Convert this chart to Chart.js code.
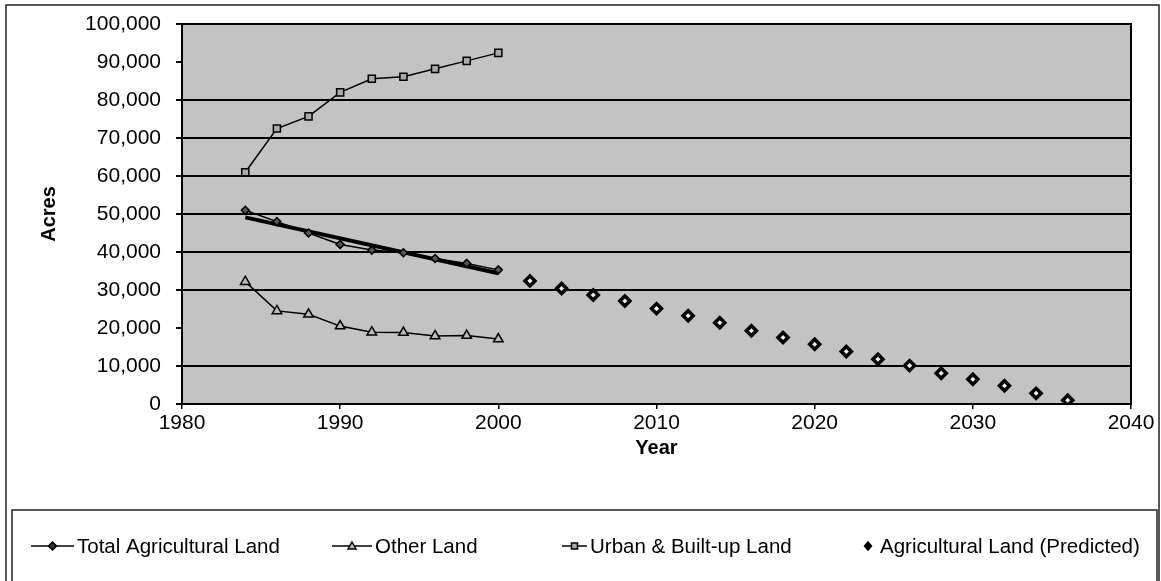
<!DOCTYPE html>
<html>
<head>
<meta charset="utf-8">
<title>Land use, acres by year</title>
<script src="https://cdn.jsdelivr.net/npm/chart.js@4.4.1/dist/chart.umd.min.js"></script>
<style>
  body { margin: 0; background: #fff; }
  canvas { display: block; }
</style>
</head>
<body>
<canvas id="landChart" width="1161" height="581"></canvas>
<script>
// survey years
const years = [1984, 1986, 1988, 1990, 1992, 1994, 1996, 1998, 2000]
const totalAg = [51000, 48000, 45000, 42000, 40500, 39800, 38300, 37000, 35300]
const otherLand = [32200, 24500, 23600, 20500, 18900, 18800, 17900, 18000, 17100]
const urbanLand = [61000, 72500, 75700, 82000, 85600, 86100, 88200, 90300, 92400]

// linear trend of total agricultural land, end points
const trendYears = [1984, 2000]
const trendValues = [49100, 34400]

// projected agricultural land
const predYears = [2002, 2004, 2006, 2008, 2010, 2012, 2014, 2016, 2018, 2020, 2022, 2024, 2026, 2028, 2030, 2032, 2034, 2036]
const predValues = [32400, 30400, 28700, 27100, 25100, 23200, 21400, 19300, 17500, 15700, 13800, 11800, 10100, 8100, 6500, 4800, 2800, 1000]

const yearTicks = [1980, 1990, 2000, 2010, 2020, 2030, 2040]
const hiddenRules = [20000, 90000]

const font = 'Liberation Sans, Arial, sans-serif'

function pairs(xs, ys) {
  return xs.map((x, i) => ({ x: x, y: ys[i] }))
}

// gray plot area, plot border and the outer frames
const framePlugin = {
  id: 'frames',
  beforeDraw(chart) {
    const { ctx, chartArea: a } = chart
    ctx.save()
    ctx.fillStyle = '#c3c3c3'
    ctx.fillRect(a.left, a.top, a.right - a.left, a.bottom - a.top)
    ctx.restore()
  },
  afterDraw(chart) {
    const { ctx, chartArea: a } = chart
    ctx.save()
    ctx.strokeStyle = '#000'
    ctx.lineWidth = 2
    ctx.strokeRect(a.left, a.top, a.right - a.left, a.bottom - a.top)
    ctx.lineWidth = 1.5
    ctx.strokeStyle = '#222'
    ctx.beginPath()
    ctx.moveTo(6, 581); ctx.lineTo(6, 5); ctx.lineTo(1159, 5); ctx.lineTo(1159, 581)
    ctx.stroke()
    ctx.beginPath()
    ctx.moveTo(12, 581); ctx.lineTo(12, 510); ctx.lineTo(1157, 510); ctx.lineTo(1157, 581)
    ctx.stroke()
    ctx.restore()
  }
}

// legend row under the chart: line swatch + marker, then the series name
const legendSlots = [
  { textX: 77, lineW: 43, marker: 'diamond' },
  { textX: 375, lineW: 40, marker: 'triangle' },
  { textX: 590, lineW: 25, marker: 'square' },
  { textX: 880, lineW: 0, marker: 'dot' }
]

function drawMarker(ctx, kind, x, y) {
  ctx.beginPath()
  ctx.lineWidth = 1.5
  ctx.strokeStyle = '#000'
  if (kind === 'diamond') {
    ctx.fillStyle = '#333'
    ctx.moveTo(x, y - 4); ctx.lineTo(x + 4, y); ctx.lineTo(x, y + 4); ctx.lineTo(x - 4, y); ctx.closePath()
  } else if (kind === 'triangle') {
    ctx.fillStyle = '#bbb'
    ctx.moveTo(x, y - 4); ctx.lineTo(x + 4, y + 3); ctx.lineTo(x - 4, y + 3); ctx.closePath()
  } else if (kind === 'square') {
    ctx.fillStyle = '#aaa'
    ctx.rect(x - 3, y - 3, 6, 6)
  } else {
    ctx.fillStyle = '#000'
    ctx.moveTo(x, y - 4); ctx.lineTo(x + 3.5, y); ctx.lineTo(x, y + 4); ctx.lineTo(x - 3.5, y); ctx.closePath()
  }
  ctx.fill()
  ctx.stroke()
}

const legendPlugin = {
  id: 'legendRow',
  afterDraw(chart) {
    const { ctx } = chart
    const y = 546
    ctx.save()
    ctx.font = '20.5px ' + font
    ctx.textBaseline = 'middle'
    ctx.textAlign = 'left'
    legendSlots.forEach((slot, i) => {
      const label = chart.data.datasets[i].label
      const x1 = slot.textX - 3
      if (slot.lineW > 0) {
        const x0 = x1 - slot.lineW
        ctx.strokeStyle = '#000'
        ctx.lineWidth = 1.5
        ctx.beginPath()
        ctx.moveTo(x0, y)
        ctx.lineTo(x1, y)
        ctx.stroke()
        drawMarker(ctx, slot.marker, (x0 + x1) / 2, y)
      } else {
        drawMarker(ctx, slot.marker, slot.textX - 12, y)
      }
      ctx.fillStyle = '#000'
      ctx.fillText(label, slot.textX, y + 1)
    })
    ctx.restore()
  }
}

const ctx = document.getElementById('landChart')
new Chart(ctx, {
  type: 'line',
  data: {
    datasets: [
      {
        label: 'Total Agricultural Land',
        data: pairs(years, totalAg),
        borderColor: '#000',
        borderWidth: 1.5,
        pointStyle: 'rectRot',
        pointRadius: 4,
        pointBackgroundColor: '#555',
        pointBorderColor: '#000',
        pointBorderWidth: 1.5
      },
      {
        label: 'Other Land',
        data: pairs(years, otherLand),
        borderColor: '#000',
        borderWidth: 1.5,
        pointStyle: 'triangle',
        pointRadius: 5.5,
        pointBackgroundColor: '#bbb',
        pointBorderColor: '#000',
        pointBorderWidth: 1.5
      },
      {
        label: 'Urban & Built-up Land',
        data: pairs(years, urbanLand),
        borderColor: '#000',
        borderWidth: 1.5,
        pointStyle: 'rect',
        pointRadius: 5,
        pointBackgroundColor: '#aaa',
        pointBorderColor: '#000',
        pointBorderWidth: 1.5
      },
      {
        label: 'Agricultural Land (Predicted)',
        data: pairs(predYears, predValues),
        showLine: false,
        pointStyle: 'rectRot',
        pointRadius: 5,
        pointBackgroundColor: '#eee',
        pointBorderColor: '#000',
        pointBorderWidth: 3.5
      },
      {
        label: 'trend',
        data: pairs(trendYears, trendValues),
        borderColor: '#000',
        borderWidth: 4,
        pointRadius: 0
      }
    ]
  },
  options: {
    responsive: false,
    animation: false,
    devicePixelRatio: 1,
    layout: { padding: { top: 24, right: 30, left: 0, bottom: 0 } },
    scales: {
      x: {
        type: 'linear',
        min: 1980,
        max: 2040,
        afterFit: (scale) => { scale.height = 177 },
        afterBuildTicks: (scale) => { scale.ticks = yearTicks.map(v => ({ value: v })) },
        grid: { drawOnChartArea: false, tickLength: 5, color: '#000', lineWidth: 1.5 },
        border: { color: '#000', width: 2 },
        ticks: { color: '#000', padding: 2, font: { family: font, size: 21 }, callback: (v) => String(v) },
        title: { display: true, text: 'Year', color: '#000', font: { family: font, size: 20, weight: 'bold' }, padding: { top: 0, bottom: 121 } }
      },
      y: {
        min: 0,
        max: 100000,
        afterFit: (scale) => {
          scale.width = 182
          scale.paddingTop = 0
          scale.paddingBottom = 0
        },
        ticks: { stepSize: 10000, color: '#000', padding: 15, font: { family: font, size: 21 } },
        grid: {
          color: (c) => (c.tick && hiddenRules.includes(c.tick.value)) ? 'rgba(0,0,0,0)' : '#000',
          tickColor: '#000',
          lineWidth: 2,
          tickLength: 6
        },
        border: { color: '#000', width: 2 },
        title: { display: true, text: 'Acres', color: '#000', font: { family: font, size: 20, weight: 'bold' }, padding: { top: 37, bottom: 0 } }
      }
    },
    plugins: {
      tooltip: { enabled: false },
      legend: { display: false }
    }
  },
  plugins: [framePlugin, legendPlugin]
})
</script>
</body>
</html>
